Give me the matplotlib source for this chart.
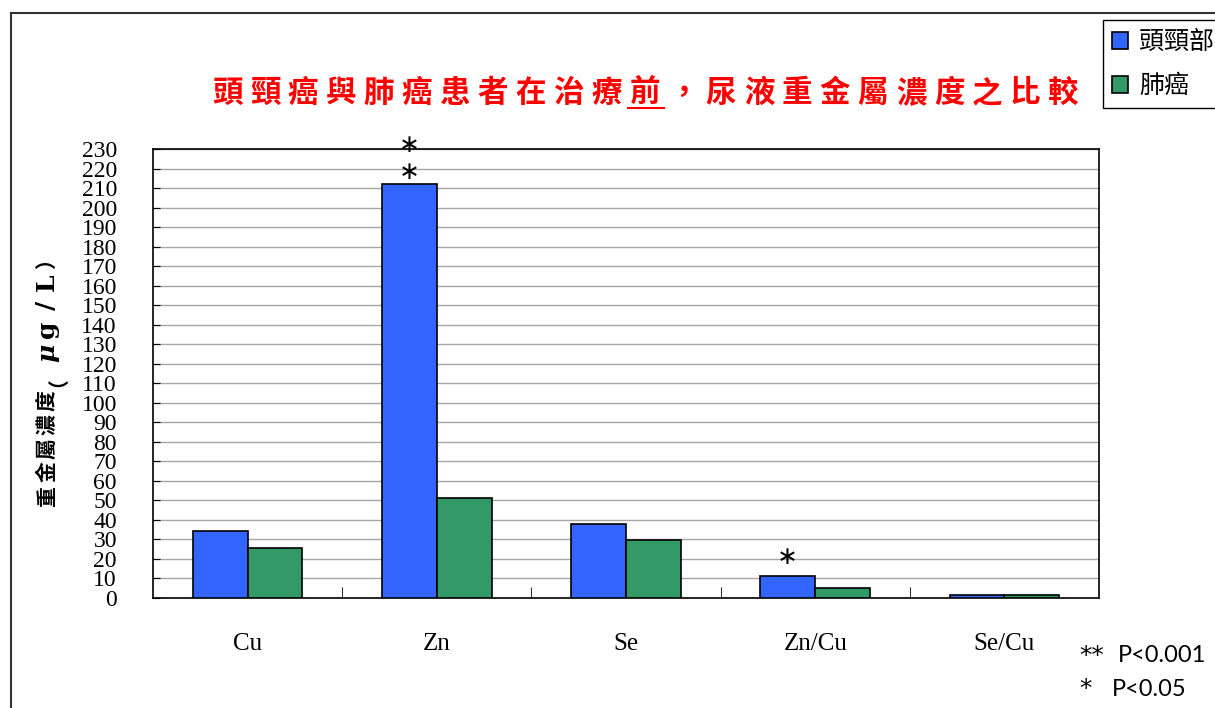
import matplotlib as mpl
import matplotlib.pyplot as plt
from matplotlib.lines import Line2D
import numpy as np

mpl.rcParams['font.family'] = ['Noto Sans CJK TC', 'DejaVu Sans']

categories = ['Cu', 'Zn', 'Se', 'Zn/Cu', 'Se/Cu']
head_neck = [34.3, 212.0, 37.9, 11.3, 1.5]
lung = [25.6, 51.2, 29.7, 5.1, 1.5]
series_labels = ['頭頸部癌', '肺癌']
y_ticks = list(range(0, 231, 10))
# significance marks: (category index, y position of mark)
star_marks = [(1, 218), (1, 232), (3, 21)]
title_text = '頭頸癌與肺癌患者在治療前，尿液重金屬濃度之比較'
underlined_char = '前'
ylabel_text = '重金屬濃度（μg/L）'
footnote_marks = ['**', '*']
footnote_texts = ['P<0.001', 'P<0.05']

color_List = ['#3366FF', '#339966']

W, H = 1215, 708
fig = plt.figure(figsize=(W/100, H/100), dpi=100)
ax = fig.add_axes([153/W, 1-598/H, 946/W, 449/H])

x = np.arange(len(categories))
w = 0.29
ax.bar(x - w/2, head_neck, w, color=color_List[0], edgecolor='black', linewidth=1.2, label=series_labels[0], zorder=3)
ax.bar(x + w/2, lung, w, color=color_List[1], edgecolor='black', linewidth=1.2, label=series_labels[1], zorder=3)

ax.set_xlim(-0.5, len(categories) - 0.5)
ax.set_ylim(0, 230)
ax.set_yticks(y_ticks)
ax.set_yticklabels([str(v) for v in y_ticks], family='Liberation Serif', fontsize=17)
ax.yaxis.grid(True, color='#a6a6a6', linewidth=1, zorder=0)
ax.tick_params(axis='y', direction='in', length=5, pad=26, color='black')

ax.set_xticks(x)
ax.set_xticklabels(categories, family='Liberation Serif', fontsize=18)
ax.tick_params(axis='x', which='major', length=0, pad=25)
ax.set_xticks(x[:-1] + 0.5, minor=True)
ax.tick_params(axis='x', which='minor', direction='in', length=8, color='black')

for s in ax.spines.values():
    s.set_color('black')
    s.set_linewidth(1.2)

for ci, yv in star_marks:
    ax.text(ci - w/2, yv, '∗', ha='center', va='center', fontsize=18, family='DejaVu Sans', color='black')

# y label, one character per step (latin part in a serif face)
pitch_y = 23.7
n = len(ylabel_text)
yc = 377
for i, ch in enumerate(ylabel_text):
    yy = yc + (n - 1) / 2 * pitch_y - i * pitch_y
    if ch in 'μg/L':
        fig.text(47/W, 1-yy/H, ch, rotation=90, ha='center', va='center', rotation_mode='anchor',
                 fontsize=18, fontweight='bold', family='DejaVu Serif',
                 fontstyle='italic' if ch == 'μ' else 'normal')
    else:
        fig.text(47/W, 1-yy/H, ch, rotation=90, ha='center', va='center', rotation_mode='anchor',
                 fontsize=15, fontweight='bold')

# title, one character per step
pitch = 38.0
n = len(title_text)
xc = 645
for i, ch in enumerate(title_text):
    xx = xc - (n - 1) / 2 * pitch + i * pitch
    fig.text(xx/W, 1-93/H, ch, ha='center', va='center',
             fontsize=22, fontweight='bold', color='red')
iu = title_text.index(underlined_char)
xu = xc - (n - 1) / 2 * pitch + iu * pitch
fig.add_artist(Line2D([(xu-17)/W, (xu+19)/W], [1-108/H, 1-108/H], transform=fig.transFigure, color='red', lw=1.5))

# legend runs off the right edge, as in the original
leg = ax.legend(loc='upper left', bbox_to_anchor=(1103/W, 1-20/H), bbox_transform=fig.transFigure,
                fontsize=18, frameon=True, fancybox=False, edgecolor='black', framealpha=1,
                handlelength=0.65, handleheight=0.65, labelspacing=0.72, handletextpad=0.45,
                borderpad=0.36, borderaxespad=0)
leg.get_frame().set_linewidth(1.0)

for i in range(len(footnote_marks)):
    yy = 1-(656 + 33*i)/H
    fig.text(1079/W, yy, footnote_marks[i], ha='left', va='center', fontsize=18, family='DejaVu Sans')
    fig.text((1118 - 6*i)/W, yy, footnote_texts[i], ha='left', va='center', fontsize=17, family='Lato')

# outer frame
fig.add_artist(Line2D([11/W, 1.0], [1-13/H, 1-13/H], transform=fig.transFigure, color='#333333', lw=1.5))
fig.add_artist(Line2D([11/W, 11/W], [1-13/H, 0.0], transform=fig.transFigure, color='#333333', lw=1.5))

fig.savefig('out.png', dpi=100)
